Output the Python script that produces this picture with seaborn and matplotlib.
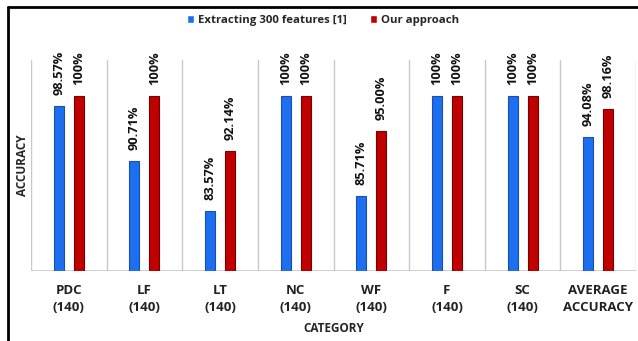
import matplotlib
matplotlib.use("Agg")
import matplotlib.pyplot as plt
import seaborn as sns
import pandas as pd
from matplotlib.lines import Line2D

categories = ["PDC\n(140)", "LF\n(140)", "LT\n(140)", "NC\n(140)", "WF\n(140)",
              "F\n(140)", "SC\n(140)", "AVERAGE\nACCURACY"]
series_names = ["Extracting 300 features [1]", "Our approach"]
baseline_values = [98.57, 90.71, 83.57, 100, 85.71, 100, 100, 94.08]
ours_values = [100, 100, 92.14, 100, 95.00, 100, 100, 98.16]
baseline_labels = ["98.57%", "90.71%", "83.57%", "100%", "85.71%", "100%", "100%", "94.08%"]
ours_labels = ["100%", "100%", "92.14%", "100%", "95.00%", "100%", "100%", "98.16%"]

df = pd.DataFrame({
    "category": categories * 2,
    "series": [series_names[0]] * len(categories) + [series_names[1]] * len(categories),
    "value": baseline_values + ours_values,
})

sns.set_theme(style="white")
plt.rcParams['font.family'] = ['Open Sans', 'DejaVu Sans']

fig = plt.figure(figsize=(6.38, 3.41), dpi=100)
ax = fig.add_axes([31 / 638, 1 - 271 / 341, 605 / 638, 211 / 341])

palette = {series_names[0]: "#1e6fef", series_names[1]: "#c00000"}
sns.barplot(data=df, x="category", y="value", hue="series", palette=palette,
            width=0.53, gap=0.5, ax=ax, saturation=1, legend=True)

edges = ["#1a4fb0", "#7a0000"]
for cont, labs, ec in zip(ax.containers, [baseline_labels, ours_labels], edges):
    for p in cont:
        p.set_edgecolor(ec)
        p.set_linewidth(0.8)
    ax.bar_label(cont, labels=labs, rotation=90, padding=8, fontsize=9.2,
                 fontweight="bold", color="#111111")

ax.set_ylim(75, 105.1)
ax.set_xlim(-0.5, len(categories) - 0.5)
for xb in range(len(categories) + 1):
    ax.axvline(xb - 0.5, color="#c8c8c8", lw=1, zorder=0)
ax.axhline(75, color="#c8c8c8", lw=1.2, zorder=0)

for s in ax.spines.values():
    s.set_visible(False)
ax.set_yticks([])
ax.tick_params(axis="x", length=0, pad=9)
for t in ax.get_xticklabels():
    t.set_fontsize(9.5)
    t.set_fontweight("bold")
    t.set_linespacing(1.45)
    t.set_color("#222222")

ax.set_xlabel("CATEGORY", fontsize=8.5, fontweight="bold", labelpad=6)
ax.set_ylabel("")
fig.text(22 / 638, 1 - 165 / 341, "ACCURACY", rotation=90, ha="center", va="center",
         fontsize=8.5, fontweight="bold")

handles, labels = ax.get_legend_handles_labels()
ax.legend(handles, labels, ncol=2, frameon=False, loc="center",
          bbox_to_anchor=(323 / 638, 1 - 20 / 341), bbox_transform=fig.transFigure,
          prop={"size": 8.2, "weight": "bold"}, handlelength=0.6, handleheight=0.7,
          handletextpad=0.4, columnspacing=2.0)

fig.add_artist(Line2D([8 / 638, 8 / 638], [0, 1 - 7 / 341], transform=fig.transFigure,
                      color="black", lw=2))
fig.add_artist(Line2D([8 / 638, 1], [1 - 7 / 341, 1 - 7 / 341], transform=fig.transFigure,
                      color="black", lw=2))

fig.savefig("out.png", dpi=100)
